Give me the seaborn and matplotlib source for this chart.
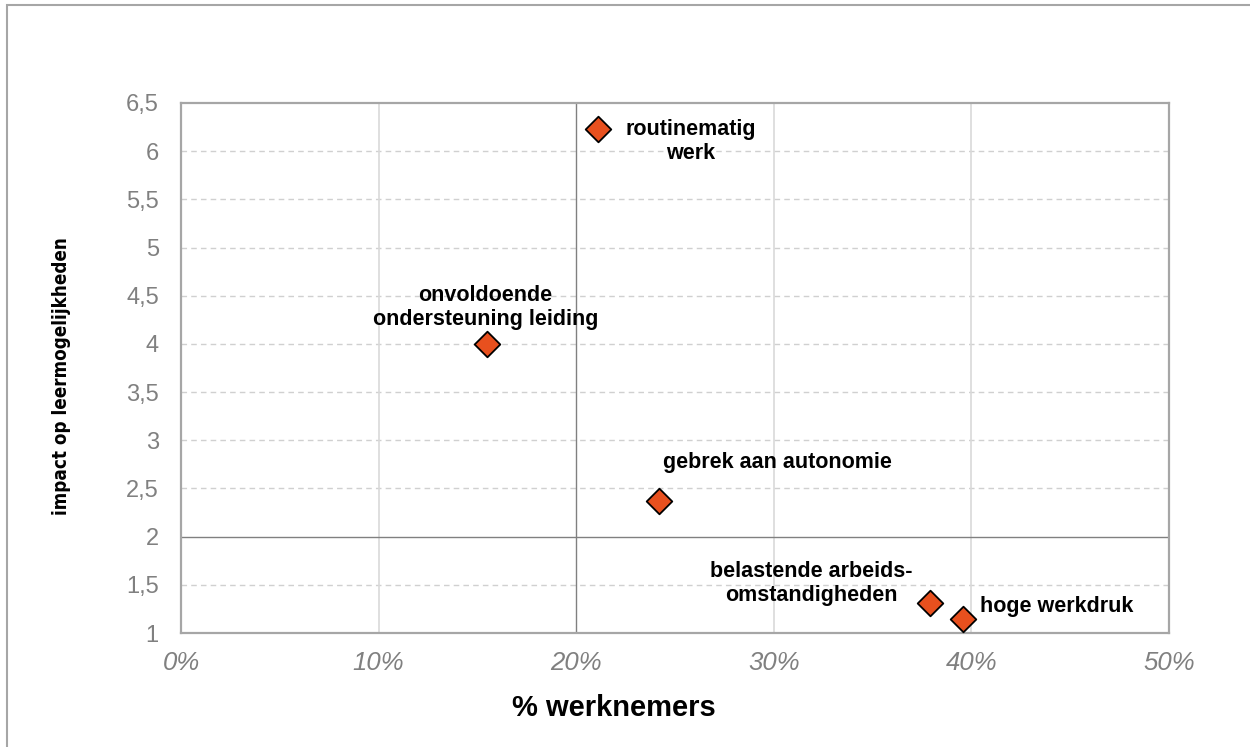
import matplotlib
matplotlib.use("Agg")
import matplotlib.pyplot as plt
from matplotlib.patches import Rectangle
from matplotlib.ticker import FuncFormatter
import seaborn as sns
import pandas as pd

# Data
factors = ["routinematig\nwerk", "onvoldoende\nondersteuning leiding", "gebrek aan autonomie",
           "belastende arbeids-\nomstandigheden", "hoge werkdruk"]
pct_workers = [21.1, 15.5, 24.2, 37.9, 39.6]
impact = [6.23, 4.00, 2.37, 1.31, 1.15]
label_x = [25.8, 15.4, 30.2, 31.9, 44.3]
label_y = [6.10, 4.38, 2.77, 1.51, 1.28]
x_ticks = [0, 10, 20, 30, 40, 50]
y_ticks = [1, 1.5, 2, 2.5, 3, 3.5, 4, 4.5, 5, 5.5, 6, 6.5]

df = pd.DataFrame({"factor": factors, "pct": pct_workers, "impact": impact})

sns.set_style("white")
plt.rcParams["font.family"] = ["Liberation Sans", "DejaVu Sans"]

fig = plt.figure(figsize=(12.5, 7.47), dpi=100)
ax = fig.add_axes([181 / 1250, 1 - 633 / 747, 988 / 1250, 530 / 747])

# outer frame
fig.add_artist(Rectangle((7 / 1250, -0.1), 1.2, (1 - 5 / 747) + 0.1, transform=fig.transFigure,
                         fill=False, edgecolor="#a6a6a6", linewidth=1.5, zorder=0))

ax.set_xlim(0, 50)
ax.set_ylim(1, 6.5)

# grid
for yv in y_ticks:
    if yv not in (1, 2, 6.5):
        ax.axhline(yv, color="#d0d0d0", linewidth=1.0, linestyle=(0, (4, 3)), zorder=0)
for xv in (10, 30, 40):
    ax.axvline(xv, color="#d9d9d9", linewidth=1.2, zorder=0)
ax.axvline(20, color="#808080", linewidth=1.0, zorder=1)
ax.axhline(2, color="#808080", linewidth=1.0, zorder=1)

sns.scatterplot(data=df, x="pct", y="impact", marker="D", s=170, color="#E8501E",
                edgecolor="black", linewidth=1.3, ax=ax, zorder=3, legend=False)

for name, lx, ly in zip(factors, label_x, label_y):
    ax.text(lx, ly, name, ha="center", va="center", fontsize=15.5, fontweight="bold",
            color="black", linespacing=1.2)

ax.set_xticks(x_ticks)
ax.set_yticks(y_ticks)
ax.xaxis.set_major_formatter(FuncFormatter(lambda v, p: f"{int(v)}%"))
ax.yaxis.set_major_formatter(FuncFormatter(lambda v, p: (f"{v:g}").replace(".", ",")))
ax.tick_params(axis="both", length=0, labelcolor="#808080")
ax.tick_params(axis="y", pad=16, labelsize=17)
ax.tick_params(axis="x", pad=13, labelsize=18.5)
for t in ax.get_xticklabels():
    t.set_fontstyle("italic")

for s in ax.spines.values():
    s.set_color("#a6a6a6")
    s.set_linewidth(1.6)

ax.set_xlabel("% werknemers", fontsize=21, fontweight="bold", color="black")
ax.set_ylabel("impact op leermogelijkheden", fontsize=13.5, fontweight="heavy",
              fontstretch="condensed", family=["DejaVu Sans"], color="black")
ax.xaxis.set_label_coords(0.438, -0.116)
ax.yaxis.set_label_coords(-0.111, 0.485)

fig.savefig("out.png", dpi=100)
